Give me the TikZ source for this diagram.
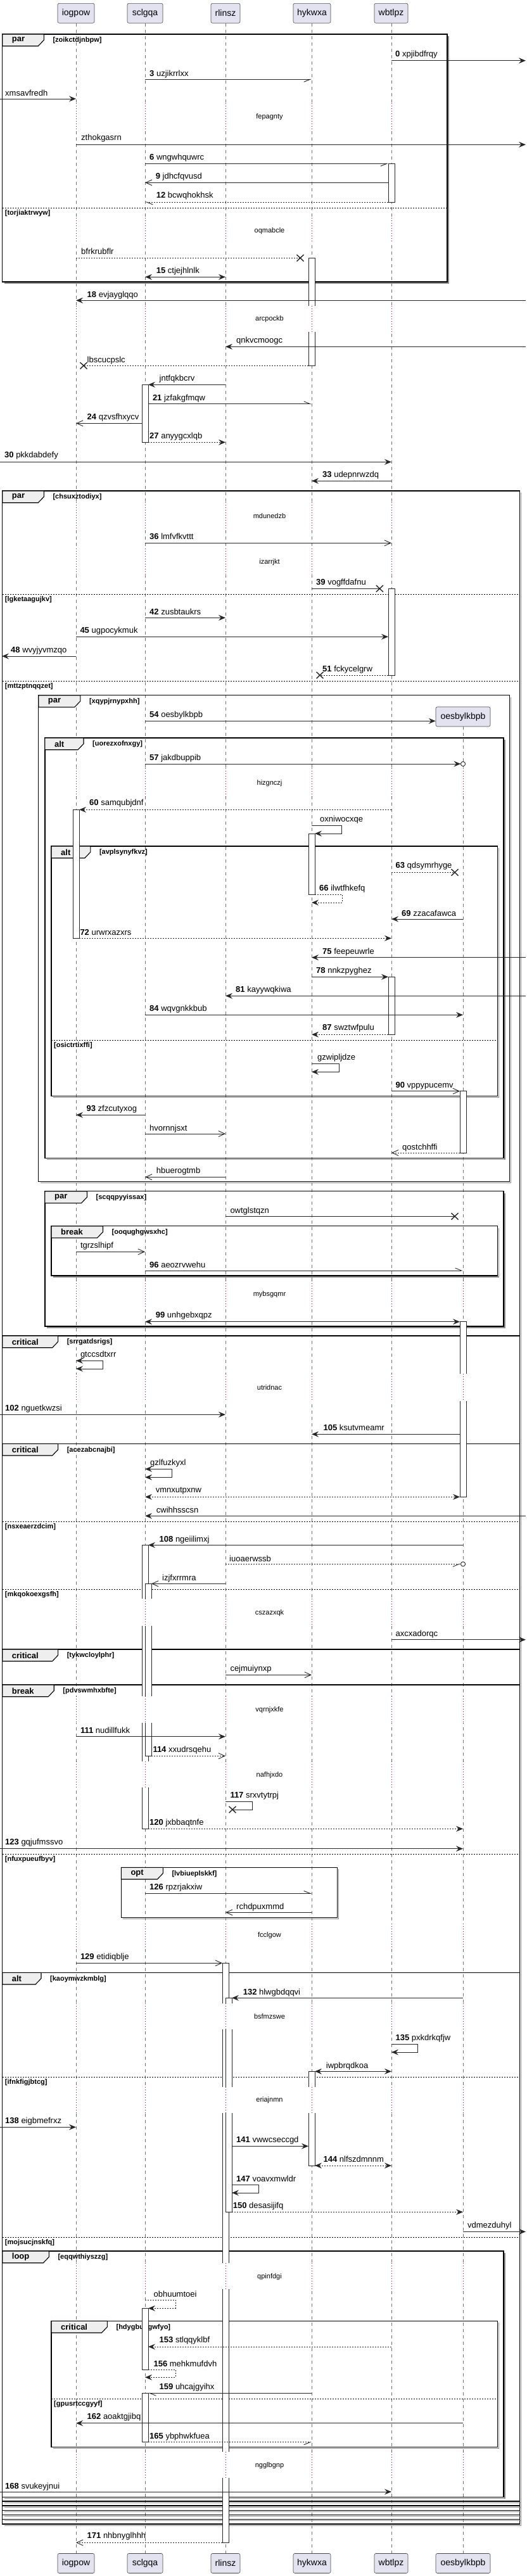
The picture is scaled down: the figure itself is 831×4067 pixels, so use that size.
\documentclass[tikz,border=0pt]{standalone}
\usepackage{fontspec}
\setmainfont{Liberation Sans}
\usetikzlibrary{arrows.meta}
\definecolor{partfill}{HTML}{E2E2F0}
\definecolor{tabfill}{HTML}{EEEEEE}
\definecolor{delayc}{HTML}{A80036}
\def\XA{120}\def\XB{229}\def\XC{356}\def\XD{492}\def\XE{618}\def\XF{731}
\tikzset{
 part/.style={draw=black!70, line width=0.6pt, fill=partfill, rounded corners=2.5pt, minimum height=31pt, inner sep=0pt, font=\fontsize{14}{16}\selectfont},
 life/.style={draw=black!55, line width=0.6pt, dash pattern=on 5pt off 5pt},
 msg/.style={draw=black!85, line width=0.9pt},
 dsh/.style={dash pattern=on 2pt off 2pt},
 fa/.style={-{Stealth[length=11pt,width=9pt,inset=4pt]}},
 fab/.style={{Stealth[length=11pt,width=9pt,inset=4pt]}-{Stealth[length=11pt,width=9pt,inset=4pt]}},
 oa/.style={-{Straight Barb[length=10pt,width=9pt]}},
 hA/.style={-{Straight Barb[harpoon,length=10pt,width=8pt]}},
 hB/.style={-{Straight Barb[harpoon,swap,length=10pt,width=8pt]}},
 lbl/.style={anchor=west, inner sep=0pt},
 frm/.style={draw=black, line width=1.4pt},
 shd/.style={draw=black!45, line width=1.1pt},
 tabs/.style={fill=tabfill, draw=black, line width=1.1pt},
 kw/.style={font=\fontsize{13}{15}\bfseries\selectfont, inner sep=0pt, anchor=west},
 cond/.style={font=\fontsize{11}{13}\bfseries\selectfont, inner sep=0pt, anchor=west},
 divl/.style={draw=black, line width=0.8pt, dash pattern=on 2pt off 2pt},
 dtxt/.style={font=\fontsize{11}{13}\selectfont, inner sep=0pt},
 actl/.style={draw=black!85, line width=0.8pt},
 xm/.style={draw=black!85, line width=1.4pt},
}
\newcommand\msgA[8]{\coordinate (#5a) at (#2,#4); \coordinate (#5b) at (#3,#4);
 \draw[msg,#1] (#5a) -- (#5b); \node[lbl] (#5t) at (#6,#7) {#8};}
\newcommand\selfA[9]{\coordinate (#7a) at (#2,#5); \coordinate (#7b) at (#4,#6);
 \draw[msg,#1] (#7a) -- (#3,#5) -- (#3,#6) -- (#7b); \node[lbl] (#7t) at (#8,#5-9) {#9};}
\newcommand\xmk[2]{\draw[xm] (#1-5.5,#2-5.2) -- (#1+5.5,#2+5.2) (#1-5.5,#2+5.2) -- (#1+5.5,#2-5.2);}
\newcommand\crc[2]{\draw[msg,fill=white] (#1,#2) circle (3.6);}
\newcommand\grp[7]{%
 \draw[shd] (#1+3,#4+2) -- (#2+2,#4+2) -- (#2+2,#3+3);
 \draw[frm] (#1,#3) rectangle (#2,#4);
 \draw[tabs] (#1,#3) -- (#5,#3) -- (#5,#3+9.3) -- (#5-9,#3+18.7) -- (#1,#3+18.7) -- cycle;
 \node[kw] (k#7) at (#1+15,#3+9.5) {#6};
 \node[cond] (c#7) at (#5+14,#3+10) {[#7]};}
\newcommand\divd[4]{\draw[divl] (#1,#3) -- (#2,#3); \node[cond] (d#4) at (#1+4,#3+8.3) {[#4]};}
\newcommand\dly[5]{\foreach \lx in {#5} {\fill[white] (\lx-2,#1) rectangle (\lx+2,#2);
 \draw[delayc, line width=0.7pt, dash pattern=on 1pt off 3pt] (\lx,#1) -- (\lx,#2);}
 \node[dtxt] (y#4) at (425.5,#3) {#4};}
\newcommand\actC[3]{\filldraw[actl,fill=white] (#1-5,#2) rectangle (#1+5,#3);}
\newcommand\actT[3]{\fill[white] (#1-5,#2) rectangle (#1+5,#3); \draw[actl] (#1-5,#3) -- (#1-5,#2) -- (#1+5,#2) -- (#1+5,#3);}
\newcommand\actB[3]{\fill[white] (#1-5,#2) rectangle (#1+5,#3); \draw[actl] (#1-5,#2) -- (#1-5,#3) -- (#1+5,#3) -- (#1+5,#2);}
\newcommand\actN[3]{\fill[white] (#1-5,#2) rectangle (#1+5,#3); \draw[actl] (#1-5,#2) -- (#1-5,#3) (#1+5,#2) -- (#1+5,#3);}
\begin{document}
\begin{tikzpicture}[x=1pt,y=-1pt,font=\fontsize{13}{15}\selectfont]
\useasboundingbox (0,0) rectangle (831,4067);
\fill[white] (0,0) rectangle (831,4067);
% participants
\node[part, minimum width=58pt] (iogpow) at (120,20.8) {iogpow};
\node[part, minimum width=56pt] (sclgqa) at (229,20.8) {sclgqa};
\node[part, minimum width=46pt] (rlinsz) at (356,20.8) {rlinsz};
\node[part, minimum width=59pt] (hykwxa) at (492.5,20.8) {hykwxa};
\node[part, minimum width=53pt] (wbtlpz) at (617.5,20.8) {wbtlpz};
\node[part, minimum width=86pt] (oes) at (731,1131.5) {oesbylkbpb};
\node[part, minimum width=58pt] (iogpowB) at (120,4046.9) {iogpow};
\node[part, minimum width=56pt] (sclgqaB) at (229,4046.9) {sclgqa};
\node[part, minimum width=46pt] (rlinszB) at (356,4046.9) {rlinsz};
\node[part, minimum width=59pt] (hykwxaB) at (492.5,4046.9) {hykwxa};
\node[part, minimum width=53pt] (wbtlpzB) at (617.5,4046.9) {wbtlpz};
\node[part, minimum width=86pt] (oesB) at (731,4046.9) {oesbylkbpb};
% lifelines
\draw[life] (iogpow.south) -- (iogpowB.north);
\draw[life] (sclgqa.south) -- (sclgqaB.north);
\draw[life] (rlinsz.south) -- (rlinszB.north);
\draw[life] ([xshift=-0.5pt]hykwxa.south) -- ([xshift=-0.5pt]hykwxaB.north);
\draw[life] ([xshift=0.5pt]wbtlpz.south) -- ([xshift=0.5pt]wbtlpzB.north);
\draw[life] (oes.south) -- (oesB.north);
% delays
\dly{163.3}{205}{184.5}{fepagnty}{120,229,356,492,618}
\dly{344}{384}{365}{oqmabcle}{120,229,356,492,618}
\dly{483}{524}{504}{arcpockb}{120,229,356,492,618}
\dly{793}{835}{814.3}{mdunedzb}{120,229,356,492,618}
\dly{866}{908}{887.3}{izarrjkt}{120,229,356,492,618}
\dly{1213}{1258}{1236.5}{hizgnczj}{120,229,356,492,618,731}
\dly{2022}{2065}{2044}{mybsgqmr}{120,229,356,492,618,731}
\dly{2169.3}{2211.7}{2191}{utridnac}{120,229,356,492,618,731}
\dly{2524.3}{2566.7}{2546.7}{cszazxqk}{120,229,356,492,618,731}
\dly{2678}{2720}{2699.3}{vqrnjxkfe}{120,229,356,492,618,731}
\dly{2780.7}{2822.3}{2802.3}{nafhjxdo}{120,229,356,492,618,731}
\dly{3037}{3076}{3056}{fcclgow}{120,229,356,492,618,731}
\dly{3162.7}{3204}{3184}{bsfmzswe}{120,229,356,492,618,731}
\dly{3295}{3336}{3316}{eriajnmn}{120,229,356,492,618,731}
\dly{3572.7}{3614}{3594.3}{qpinfdgi}{120,229,356,492,618,731}
\dly{3870.7}{3912.3}{3892.3}{ngglbgnp}{120,229,356,492,618,731}
% groups
\grp{3.7}{706}{54}{445}{69.3}{par}{zoikctdjnbpw}
\divd{3.7}{706}{328.3}{torjiaktrwyw}
\grp{3.7}{820.5}{775}{3985}{69.3}{par}{chsuxztodiyx}
\divd{3.7}{820.5}{938}{lgketaagujkv}
\divd{3.7}{820.5}{1075}{mttzptnqqzet}
\grp{60.7}{804.5}{1097.7}{1865.7}{126.8}{par}{xqypjrnypxhh}
\grp{70.9}{795}{1165}{1828.3}{132}{alt}{uorezxofnxgy}
\grp{81}{785.3}{1336}{1730.7}{142.8}{alt}{avplsynyfkvz}
\divd{81}{785.3}{1642.3}{osictrtixffi}
\grp{70.9}{795}{1880.7}{2094}{137.5}{par}{scqqpyyissax}
\grp{81}{785.3}{1935.7}{2014}{162.5}{break}{ooqughgwsxhc}
\grp{3.7}{820.5}{2109}{3977.7}{91.6}{critical}{srrgatdsrigs}
\grp{3.7}{820.5}{2279.3}{3970.7}{91.6}{critical}{acezabcnajbi}
\divd{3.7}{820.5}{2402.3}{nsxeaerzdcim}
\divd{3.7}{820.5}{2509}{mkqokoexgsfh}
\grp{3.7}{820.5}{2604}{3963.3}{91.6}{critical}{tykwcloylphr}
\grp{3.7}{820.5}{2660}{3956}{85.2}{break}{pdvswmhxbfte}
\divd{3.7}{820.5}{2927.3}{nfuxpueufbyv}
\grp{191.3}{532.2}{2948.3}{3027.3}{257.3}{opt}{lvbiueplskkf}
\grp{3.7}{820.5}{3114.3}{3949}{65}{alt}{kaoymwzkmblg}
\divd{3.7}{820.5}{3279.3}{ifnkfigjbtcg}
\divd{3.7}{820.5}{3532.3}{mojsucjnskfq}
\grp{3.7}{795}{3554}{3942.3}{77.3}{loop}{eqqwthiyszzg}
\grp{81}{785.3}{3664.3}{3863.3}{169.4}{critical}{hdygbuogwfyo}
\divd{81}{785.3}{3787.3}{gpusrtccgyyf}
% activations
\actC{618}{258.3}{319}
\actT{492}{407.3}{483} \actB{492}{524}{577.3}
\actC{229}{607.3}{698.3}
\actC{618}{929.3}{1066}
\actC{120}{1278.3}{1481.3}
\actC{492}{1316}{1412.7}
\actC{618}{1542.3}{1633.3}
\actC{731}{1722.7}{1820}
\actT{731}{2086.7}{2169.3} \actB{731}{2211.7}{2363.3}
\actT{229}{2439.3}{2524.3} \actN{229}{2566.7}{2677.7} \actN{229}{2720}{2780.7} \actB{229}{2822.3}{2887.3}
\actT{234}{2500.3}{2524.3} \actN{234}{2566.7}{2677.7} \actB{234}{2720}{2772.3}
\actT{356}{3099.3}{3162.7} \actN{356}{3204}{3295} \actN{356}{3336}{3572.7} \actN{356}{3614}{3870.7} \actB{356}{3912.3}{4014.3}
\actT{361}{3154.3}{3162.7} \actN{361}{3204}{3295} \actB{361}{3336}{3492.3}
\actT{492}{3270.3}{3295} \actB{492}{3336}{3419}
\actC{229}{3644.3}{3741.3}
\actC{229}{3778.3}{3855.7}
% messages
\msgA{fa}{\XE}{830}{95.7}{m0}{624}{85.7}{\textbf{0} xpjibdfrqy}
\msgA{hB}{\XB}{\XD}{125.3}{m3}{236}{116.7}{\textbf{3} uzjikrrlxx}
\msgA{fa}{0}{\XA}{156}{mxms}{8}{146.7}{xmsavfredh}
\msgA{fa}{\XA}{830}{228.3}{mzth}{128}{218.3}{zthokgasrn}
\msgA{hB}{\XB}{613}{258.3}{m6}{236}{249.3}{\textbf{6} wngwhquwrc}
\msgA{oa}{613}{\XB}{288.3}{m9}{245.6}{279.3}{\textbf{9} jdhcfqvusd}
\msgA{dsh,hA}{613}{\XB}{319}{m12}{246.7}{309.3}{\textbf{12} bcwqhokhsk}
\msgA{dsh}{\XA}{474}{407.3}{mbfr}{128}{397.3}{bfrkrubflr}\xmk{474}{407.3}
\msgA{fab}{\XB}{\XC}{437.3}{m15}{246.7}{428.3}{\textbf{15} ctjejhlnlk}
\msgA{fa}{830}{\XA}{474.3}{m18}{137.5}{466}{\textbf{18} evjayglqqo}
\msgA{fa}{830}{\XC}{547.3}{mqnk}{373}{537.7}{qnkvcmoogc}
\msgA{dsh}{487}{132}{577.3}{mlbs}{137.5}{568.7}{lbscucpslc}\xmk{132}{577.3}
\msgA{fa}{\XC}{234}{607.3}{mjnt}{251.5}{598.3}{jntfqkbcrv}
\msgA{hA}{234}{\XD}{637.7}{m21}{240.8}{628.7}{\textbf{21} jzfakgfmqw}
\msgA{oa}{224}{\XA}{668.3}{m24}{137.5}{659.3}{\textbf{24} qzvsfhxycv}
\msgA{dsh,fa}{234}{\XC}{698.3}{m27}{236}{689.3}{\textbf{27} anyygcxlqb}
\msgA{fa}{0}{\XE}{729.3}{m30}{7}{719.3}{\textbf{30} pkkdabdefy}
\msgA{fa}{\XE}{\XD}{759.3}{m33}{509}{750.3}{\textbf{33} udepnrwzdq}
\msgA{oa}{\XB}{\XE}{857.3}{m36}{236}{847.3}{\textbf{36} lmfvfkvttt}
\msgA{}{\XD}{599.4}{929.3}{m39}{499}{920}{\textbf{39} vogffdafnu}\xmk{599.4}{929.3}
\msgA{fa}{\XB}{\XC}{975.3}{m42}{236}{966}{\textbf{42} zusbtaukrs}
\msgA{fa}{\XA}{613}{1005.3}{m45}{126.3}{996}{\textbf{45} ugpocykmuk}
\msgA{fa}{\XA}{3}{1036}{m48}{17}{1026.7}{\textbf{48} wvyjyvmzqo}
\msgA{dsh}{613}{505}{1066}{m51}{509}{1057.3}{\textbf{51} fckycelgrw}\xmk{505}{1066}
\coordinate (m54a) at (\XB,1138.3);
\draw[msg,fa] (m54a) -- (m54a -| oes.west);
\node[lbl] (m54t) at (236,1128.7) {\textbf{54} oesbylkbpb};
\msgA{fa}{\XB}{727.4}{1206}{m57}{236}{1196.7}{\textbf{57} jakdbuppib}\crc{731}{1206}
\msgA{dsh,fa}{\XE}{125}{1278.3}{m60}{141}{1268.3}{\textbf{60} samqubjdnf}
\selfA{fa}{\XD}{539.7}{497}{1303.3}{1316}{moxn}{505}{oxniwocxqe}
\msgA{dsh}{\XE}{718}{1377.3}{m63}{624.4}{1367.3}{\textbf{63} qdsymrhyge}\xmk{718}{1377.3}
\selfA{dsh,fa}{497}{540.2}{\XD}{1412.3}{1425}{m66}{504}{\textbf{66} ilwtfhkefq}
\msgA{fa}{\XF}{\XE}{1451}{m69}{634}{1441.7}{\textbf{69} zzacafawca}
\msgA{dsh,fa}{125}{\XE}{1481.3}{m72}{126.3}{1472.3}{\textbf{72} urwrxazxrs}
\msgA{fa}{830}{\XD}{1511.7}{m75}{509}{1502.7}{\textbf{75} feepeuwrle}
\msgA{fa}{\XD}{613}{1542.3}{m78}{499}{1532.7}{\textbf{78} nnkzpyghez}
\msgA{fa}{830}{\XC}{1572.3}{m81}{372}{1563.3}{\textbf{81} kayywqkiwa}
\msgA{fa}{\XB}{\XF}{1602.3}{m84}{236}{1593.3}{\textbf{84} wqvgnkkbub}
\msgA{dsh,fa}{613}{\XD}{1633.3}{m87}{509}{1623.3}{\textbf{87} swztwfpulu}
\selfA{fa}{\XD}{535.4}{\XD}{1679.3}{1692.3}{mgzw}{501}{gzwipljdze}
\msgA{oa}{\XE}{726}{1722.7}{m90}{624.4}{1714}{\textbf{90} vppypucemv}
\msgA{fa}{\XB}{\XA}{1760.3}{m93}{136.4}{1751}{\textbf{93} zfzcutyxog}
\msgA{oa}{\XB}{\XC}{1790}{mhvo}{236}{1781.7}{hvornnjsxt}
\msgA{dsh,oa}{726}{\XE}{1820}{mqos}{635}{1811.7}{qostchhffi}
\msgA{oa}{\XC}{\XB}{1858.3}{mhbu}{246.7}{1849}{hbuerogtmb}
\msgA{}{\XC}{718}{1920.3}{mowt}{363.3}{1911.7}{owtglstqzn}\xmk{718}{1920.3}
\msgA{oa}{\XA}{\XB}{1976.3}{mtgr}{126.8}{1967.3}{tgrzslhipf}
\msgA{hA}{\XB}{\XF}{2006}{m96}{236}{1997.3}{\textbf{96} aeozrvwehu}
\msgA{fab}{\XB}{726}{2086.7}{m99}{245.6}{2076.7}{\textbf{99} unhgebxqpz}
\selfA{fab}{\XA}{162.5}{\XA}{2148.3}{2161}{mgtc}{126.8}{gtccsdtxrr}
\msgA{fa}{0}{\XC}{2233.3}{m102}{8}{2224.3}{\textbf{102} nguetkwzsi}
\msgA{fa}{726}{\XD}{2264.3}{m105}{510.4}{2254.3}{\textbf{105} ksutvmeamr}
\selfA{fab}{\XB}{271.7}{\XB}{2319.3}{2332.3}{mgzl}{237}{gzlfuzkyxl}
\msgA{dsh,fab}{\XB}{726}{2363.3}{mvmn}{245.6}{2353.3}{vmnxutpxnw}
\msgA{fa}{830}{\XB}{2393.3}{mcwi}{246.7}{2384.3}{cwihhsscsn}
\msgA{fa}{\XF}{234}{2439.3}{m108}{251.5}{2430.7}{\textbf{108} ngeiilimxj}
\msgA{dsh,hB}{\XC}{727.4}{2469.3}{miuo}{362}{2461}{iuoaerwssb}\crc{731}{2469.3}
\msgA{oa}{\XC}{239}{2500.3}{mizj}{256}{2491.7}{izjfxrrmra}
\msgA{fa}{\XE}{830}{2588.7}{maxc}{624.4}{2580}{axcxadorqc}
\msgA{oa}{\XC}{\XD}{2644.3}{mcej}{363.3}{2635}{cejmuiynxp}
\msgA{fa}{\XA}{\XC}{2741.7}{m111}{126.8}{2732.3}{\textbf{111} nudillfukk}
\msgA{dsh,oa}{239}{\XC}{2772.3}{m114}{241.3}{2762.7}{\textbf{114} xxudrsqehu}
\selfA{}{\XC}{398.5}{367}{2844.3}{2857}{m117}{363.3}{\textbf{117} srxvtytrpj}\xmk{367}{2857}
\msgA{dsh,fa}{234}{\XF}{2887.3}{m120}{236}{2878.3}{\textbf{120} jxbbaqtnfe}
\msgA{fa}{0}{\XF}{2918.7}{m123}{8}{2908.7}{\textbf{123} gqjufmssvo}
\msgA{hA}{\XB}{\XD}{2989.3}{m126}{236}{2980}{\textbf{126} rpzrjakxiw}
\msgA{oa}{\XD}{\XC}{3019.3}{mrch}{373}{3010.7}{rchdpuxmmd}
\msgA{oa}{\XA}{351}{3099.3}{m129}{126.8}{3090}{\textbf{129} etidiqblje}
\msgA{fa}{\XF}{366}{3154.3}{m132}{383.6}{3145.7}{\textbf{132} hlwgbdqqvi}
\selfA{fa}{\XE}{659.6}{\XE}{3227.3}{3240}{m135}{624.4}{\textbf{135} pxkdrkqfjw}
\msgA{fab}{497}{\XE}{3270.3}{miwp}{514.7}{3261.7}{iwpbrqdkoa}
\msgA{fa}{0}{\XA}{3358.3}{m138}{8}{3349.3}{\textbf{138} eigbmefrxz}
\msgA{fa}{366}{487}{3388.3}{m141}{373}{3379.3}{\textbf{141} vwwcseccgd}
\msgA{dsh,fab}{497}{\XE}{3419}{m144}{510.4}{3409.3}{\textbf{144} nlfszdmnnm}
\selfA{fa}{366}{408}{366}{3449.3}{3462}{m147}{373}{\textbf{147} voavxmwldr}
\msgA{dsh,fa}{366}{\XF}{3492.3}{m150}{367.6}{3483.3}{\textbf{150} desasijifq}
\msgA{fa}{\XF}{830}{3523.3}{mvdm}{737.9}{3514}{vdmezduhyl}
\selfA{dsh,fa}{\XB}{277}{234}{3631}{3644.3}{mobh}{242.4}{obhuumtoei}
\msgA{dsh,fa}{\XE}{234}{3705}{m153}{251.5}{3695.3}{\textbf{153} stlqqyklbf}
\selfA{dsh,fa}{234}{277}{\XB}{3741.3}{3753.3}{m156}{242.4}{\textbf{156} mehkmufdvh}
\msgA{hA}{\XD}{234}{3778.3}{m159}{251.5}{3769.3}{\textbf{159} uhcajgyihx}
\msgA{fa}{\XF}{\XA}{3825.7}{m162}{137.5}{3816}{\textbf{162} aoaktgjibq}
\msgA{dsh,hB}{234}{\XD}{3855.7}{m165}{236}{3846.7}{\textbf{165} ybphwkfuea}
\msgA{fa}{0}{\XE}{3934}{m168}{8}{3925.7}{\textbf{168} svukeyjnui}
\msgA{dsh,oa}{351}{\XA}{4014.3}{m171}{137.5}{4004.3}{\textbf{171} nhbnyglhhh}
\end{tikzpicture}
\end{document}
